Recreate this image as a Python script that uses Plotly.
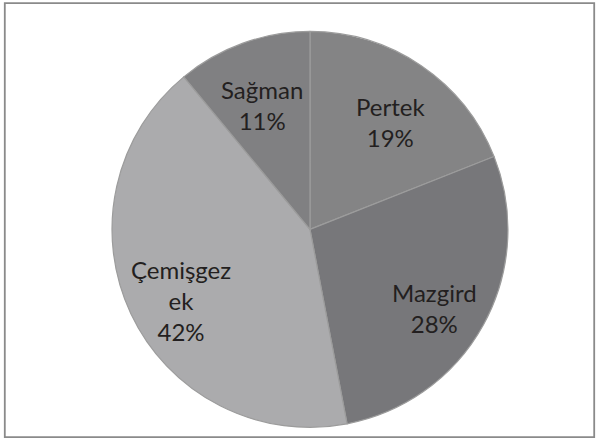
import math
import plotly.graph_objects as go

labels = ["Pertek", "Mazgird", "Çemişgezek", "Sağman"]
display_labels = ["Pertek", "Mazgird", "Çemişgez<br>ek", "Sağman"]
values = [19, 28, 42, 11]
colors = ["#848485", "#77777a", "#ababad", "#808082"]

W, H = 599, 442
dom_x = [0.187, 0.848]
dom_y = [0.033, 0.929]

fig = go.Figure(go.Pie(
    labels=labels,
    values=values,
    textinfo="none",
    hoverinfo="label+percent",
    sort=False,
    direction="clockwise",
    rotation=0,
    marker=dict(colors=colors, line=dict(color="#9c9c9c", width=1.2)),
    domain=dict(x=dom_x, y=dom_y),
    showlegend=False,
))

# labels placed along each slice's mid-angle, derived from the values
cx = (dom_x[0] + dom_x[1]) / 2 * W
cy = (dom_y[0] + dom_y[1]) / 2 * H
radius = min((dom_x[1] - dom_x[0]) * W, (dom_y[1] - dom_y[0]) * H) / 2
total = sum(values)
annotations = []
cum = 0
for lab, v in zip(display_labels, values):
    mid = (cum + v / 2) / total * 2 * math.pi
    cum += v
    rr = 0.72 * radius
    px = cx + rr * math.sin(mid)
    py = cy + rr * math.cos(mid)
    annotations.append(dict(
        x=px / W, y=py / H, xref="paper", yref="paper",
        text=f"{lab}<br>{round(v / total * 100)}%",
        showarrow=False, xanchor="center", yanchor="middle", yshift=-10,
        font=dict(family="Lato, Open Sans, sans-serif", size=24, color="#231f20"),
    ))

fig.update_layout(
    width=W, height=H,
    margin=dict(l=0, r=0, t=0, b=0),
    paper_bgcolor="white",
    plot_bgcolor="white",
    annotations=annotations,
    shapes=[dict(type="rect", xref="paper", yref="paper",
                 x0=0.008, x1=0.992, y0=0.011, y1=0.993,
                 line=dict(color="#8a8a8a", width=1.8))],
)

fig.write_html("out.html", config={"displayModeBar": False},
               post_script="document.body.style.margin='0px';")
